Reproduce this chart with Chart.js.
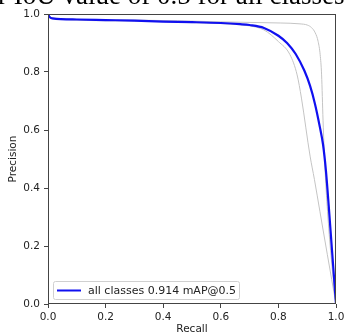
<!DOCTYPE html>
<html>
<head>
<meta charset="utf-8">
<script src="https://cdn.jsdelivr.net/npm/chart.js@4.4.1/dist/chart.umd.min.js"></script>
<style>
  body { margin: 0; background: #fff; overflow: hidden; }
  #wrap { position: relative; width: 344px; height: 334px; overflow: hidden; }
  #titulo {
    position: absolute; left: -2px; top: -18px; white-space: nowrap;
    font: 27px "Liberation Serif", "Times New Roman", serif; line-height: 27px; color: #000;
  }
  canvas { position: absolute; left: 0; top: 0; }
</style>
</head>
<body>
<div id="wrap">
  <canvas id="chartPR" width="344" height="334"></canvas>
  <div id="titulo">r IoU value of 0.5 for all classes</div>
</div>
<script>
// curva média (azul)
var recallMedia = [0, 0.005, 0.015, 0.1, 0.2, 0.3, 0.4, 0.5, 0.6, 0.667, 0.7, 0.75, 0.8, 0.83, 0.86, 0.89, 0.91, 0.927, 0.944, 0.955, 0.965, 0.975, 0.985, 1.0];
var precisaoMedia = [1.0, 0.99, 0.985, 0.981, 0.979, 0.977, 0.974, 0.972, 0.969, 0.965, 0.962, 0.952, 0.925, 0.9, 0.862, 0.805, 0.752, 0.69, 0.61, 0.55, 0.46, 0.335, 0.2, 0.0];

// classes individuais (cinza)
var recallClasseA = [0, 0.015, 0.3, 0.6, 0.75, 0.806, 0.875, 0.9, 0.915, 0.928, 0.938, 0.945, 0.95, 0.955, 0.962, 0.972, 0.984, 1.0];
var precisaoClasseA = [1.0, 0.986, 0.979, 0.973, 0.97, 0.969, 0.966, 0.962, 0.953, 0.935, 0.905, 0.86, 0.79, 0.634, 0.462, 0.3, 0.152, 0.0];

var recallClasseB = [0, 0.015, 0.3, 0.5, 0.6, 0.65, 0.7, 0.75, 0.8, 0.84, 0.865, 0.88, 0.91, 0.925, 0.944, 0.97, 1.0];
var precisaoClasseB = [1.0, 0.984, 0.976, 0.97, 0.967, 0.964, 0.959, 0.945, 0.905, 0.86, 0.79, 0.71, 0.51, 0.43, 0.32, 0.17, 0.0];

var ticksEixo = [0, 0.2, 0.4, 0.6, 0.8, 1.0];
var legendaTexto = 'all classes 0.914 mAP@0.5';

function pontos(xs, ys) {
    return xs.map(function (x, i) { return { x: x, y: ys[i] }; });
}

var fonte = '"DejaVu Sans", sans-serif';

// moldura do gráfico + legenda dentro da área
var molduraPlugin = {
    id: 'moldura',
    afterDatasetsDraw: function (chart) {
        var ctx = chart.ctx, a = chart.chartArea;
        ctx.save();
        ctx.strokeStyle = '#444';
        ctx.lineWidth = 1;
        ctx.strokeRect(Math.round(a.left) + 0.5, Math.round(a.top) + 0.5, Math.round(a.right - a.left) - 1, Math.round(a.bottom - a.top) - 1);

        // legenda
        var x0 = a.left + 5, y0 = a.bottom - 5 - 18;
        ctx.font = '11px ' + fonte;
        var w = ctx.measureText(legendaTexto).width + 38;
        ctx.fillStyle = 'rgba(255,255,255,0.9)';
        ctx.strokeStyle = '#d0d0d0';
        ctx.beginPath();
        ctx.roundRect(x0 + 0.5, y0 + 0.5, w, 18, 2);
        ctx.fill();
        ctx.stroke();
        var ds = chart.data.datasets[0];
        ctx.strokeStyle = ds.borderColor;
        ctx.lineWidth = 2;
        ctx.beginPath();
        ctx.moveTo(x0 + 4, y0 + 9.5);
        ctx.lineTo(x0 + 28, y0 + 9.5);
        ctx.stroke();
        ctx.fillStyle = '#222';
        ctx.textBaseline = 'middle';
        ctx.fillText(ds.label, x0 + 35, y0 + 10);
        ctx.restore();
    }
};

var ctxPR = document.getElementById('chartPR');

new Chart(ctxPR, {
    type: 'scatter',
    data: {
        datasets: [{
            label: legendaTexto,
            data: pontos(recallMedia, precisaoMedia),
            showLine: true,
            borderColor: '#1010f0',
            borderWidth: 2.2,
            pointRadius: 0,
            cubicInterpolationMode: 'monotone',
            order: 0
        }, {
            label: 'classe A',
            data: pontos(recallClasseA, precisaoClasseA),
            showLine: true,
            borderColor: '#c4c4c4',
            borderWidth: 1,
            pointRadius: 0,
            cubicInterpolationMode: 'monotone',
            order: 1
        }, {
            label: 'classe B',
            data: pontos(recallClasseB, precisaoClasseB),
            showLine: true,
            borderColor: '#c4c4c4',
            borderWidth: 1,
            pointRadius: 0,
            cubicInterpolationMode: 'monotone',
            order: 1
        }]
    },
    options: {
        responsive: false,
        animation: false,
        layout: { padding: { top: 14, right: 8, left: 0, bottom: 0 } },
        plugins: {
            legend: { display: false },
            tooltip: { enabled: false }
        },
        scales: {
            x: {
                type: 'linear',
                min: 0,
                max: 1,
                afterBuildTicks: function (s) { s.ticks = ticksEixo.map(function (v) { return { value: v }; }); },
                afterFit: function (s) { s.height = 30; s.paddingLeft = 0; s.paddingRight = 0; },
                ticks: {
                    callback: function (v) { return v.toFixed(1); },
                    font: { family: fonte, size: 10.5 },
                    color: '#222',
                    padding: 3,
                    maxRotation: 0
                },
                grid: { drawOnChartArea: false, drawTicks: true, tickLength: 4, color: '#444' },
                border: { display: false },
                title: {
                    display: true,
                    text: 'Recall',
                    font: { family: fonte, size: 10.5 },
                    color: '#222',
                    padding: { top: 0, bottom: -2 }
                }
            },
            y: {
                type: 'linear',
                min: 0,
                max: 1,
                afterBuildTicks: function (s) { s.ticks = ticksEixo.map(function (v) { return { value: v }; }); },
                afterFit: function (s) { s.width = 48; s.paddingTop = 0; s.paddingBottom = 0; },
                ticks: {
                    callback: function (v) { return v.toFixed(1); },
                    font: { family: fonte, size: 10.5 },
                    color: '#222',
                    padding: 4
                },
                grid: { drawOnChartArea: false, drawTicks: true, tickLength: 4, color: '#444' },
                border: { display: false },
                title: {
                    display: true,
                    text: 'Precision',
                    font: { family: fonte, size: 10.5 },
                    color: '#222',
                    padding: { top: 7, bottom: 0 }
                }
            }
        }
    },
    plugins: [molduraPlugin]
});
</script>
</body>
</html>
